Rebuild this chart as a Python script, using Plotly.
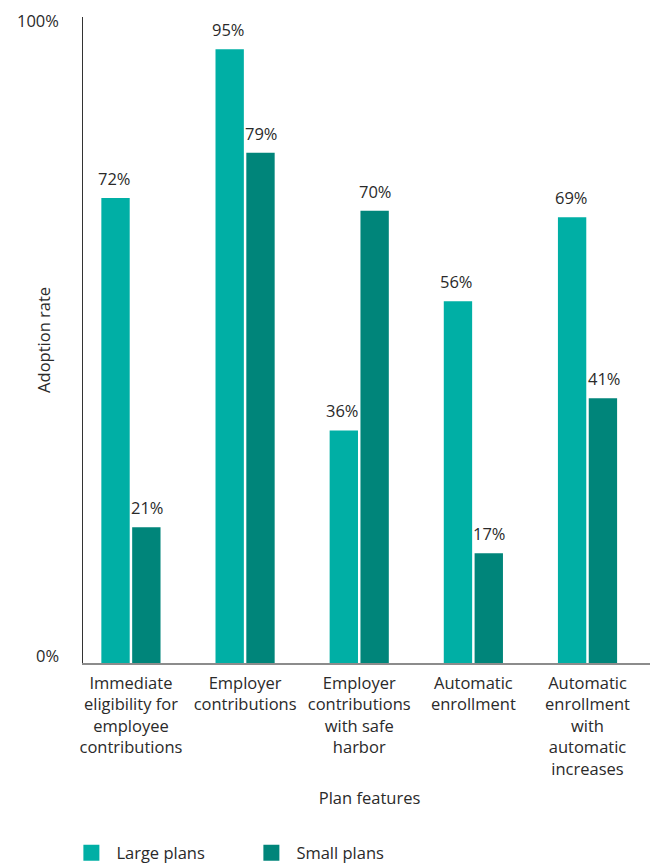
import plotly.graph_objects as go

categories = [
    "Immediate<br>eligibility for<br>employee<br>contributions",
    "Employer<br>contributions",
    "Employer<br>contributions<br>with safe<br>harbor",
    "Automatic<br>enrollment",
    "Automatic<br>enrollment<br>with<br>automatic<br>increases",
]
large_plans = [72, 95, 36, 56, 69]
small_plans = [21, 79, 70, 17, 41]
series_names = ["Large plans", "Small plans"]
colors = ["#00AFA5", "#00857A"]
y_tick_vals = [0, 100]
y_tick_text = ["0%", "100%"]

FONT = "Open Sans"
FS = 16.5
TXT = "#2a2a2a"

# The page body has an 8px default margin; compensate in figure size/margins
W, H = 650, 857

fig = go.Figure()
for name, vals, col in zip(series_names, [large_plans, small_plans], colors):
    fig.add_trace(go.Bar(
        x=categories, y=vals, name=name, marker_color=col,
        marker_line_width=0, cliponaxis=False, showlegend=False,
    ))
for name, col in zip(series_names, colors):
    fig.add_trace(go.Scatter(
        x=[None], y=[None], mode="markers", name=name,
        marker=dict(symbol="square", size=16, color=col),
    ))

annotations = []
for vals, shift in zip([large_plans, small_plans], [-16.5, 16.5]):
    for c, v in zip(categories, vals):
        annotations.append(dict(x=c, y=v, text=f"{v}%", showarrow=False,
                                xshift=shift, yshift=6, yanchor="bottom",
                                font=dict(family=FONT, size=FS, color=TXT)))
for v, t, ys in zip(y_tick_vals, y_tick_text, [8, -3]):
    annotations.append(dict(x=0, xref="paper", y=v, yref="y", text=t, showarrow=False,
                            xanchor="right", yanchor="middle", xshift=-22, yshift=ys,
                            font=dict(family=FONT, size=FS, color=TXT)))
annotations.append(dict(text="Adoption rate", textangle=-90, xref="paper", yref="paper",
                        x=-0.07, y=0.5, showarrow=False, xanchor="center", yanchor="middle",
                        font=dict(family=FONT, size=FS, color=TXT)))

fig.update_layout(
    width=W, height=H,
    margin=dict(l=75, r=2, t=9, b=202, autoexpand=False),
    paper_bgcolor="white", plot_bgcolor="white",
    barmode="group", bargap=0.46, bargroupgap=0.08,
    font=dict(family=FONT, size=FS, color=TXT),
    showlegend=True,
    legend=dict(orientation="h", x=-0.029, xanchor="left", y=-0.294, yanchor="middle",
                entrywidth=125, itemwidth=40, font=dict(family=FONT, size=FS, color=TXT),
                traceorder="normal"),
    xaxis=dict(range=[-0.42, 4.6], showline=True, linecolor="#8c8c8c", linewidth=2,
               automargin=False, ticks="", ticklabelstandoff=4,
               tickfont=dict(family=FONT, size=FS, color=TXT),
               title=dict(text="Plan features", font=dict(family=FONT, size=FS, color=TXT),
                          standoff=14)),
    yaxis=dict(range=[0, 100], tickvals=y_tick_vals, showticklabels=False,
               automargin=False, showgrid=False, zeroline=False, showline=True,
               linecolor="#333333", linewidth=1, ticks=""),
    annotations=annotations,
)

fig.write_html("out.html")
